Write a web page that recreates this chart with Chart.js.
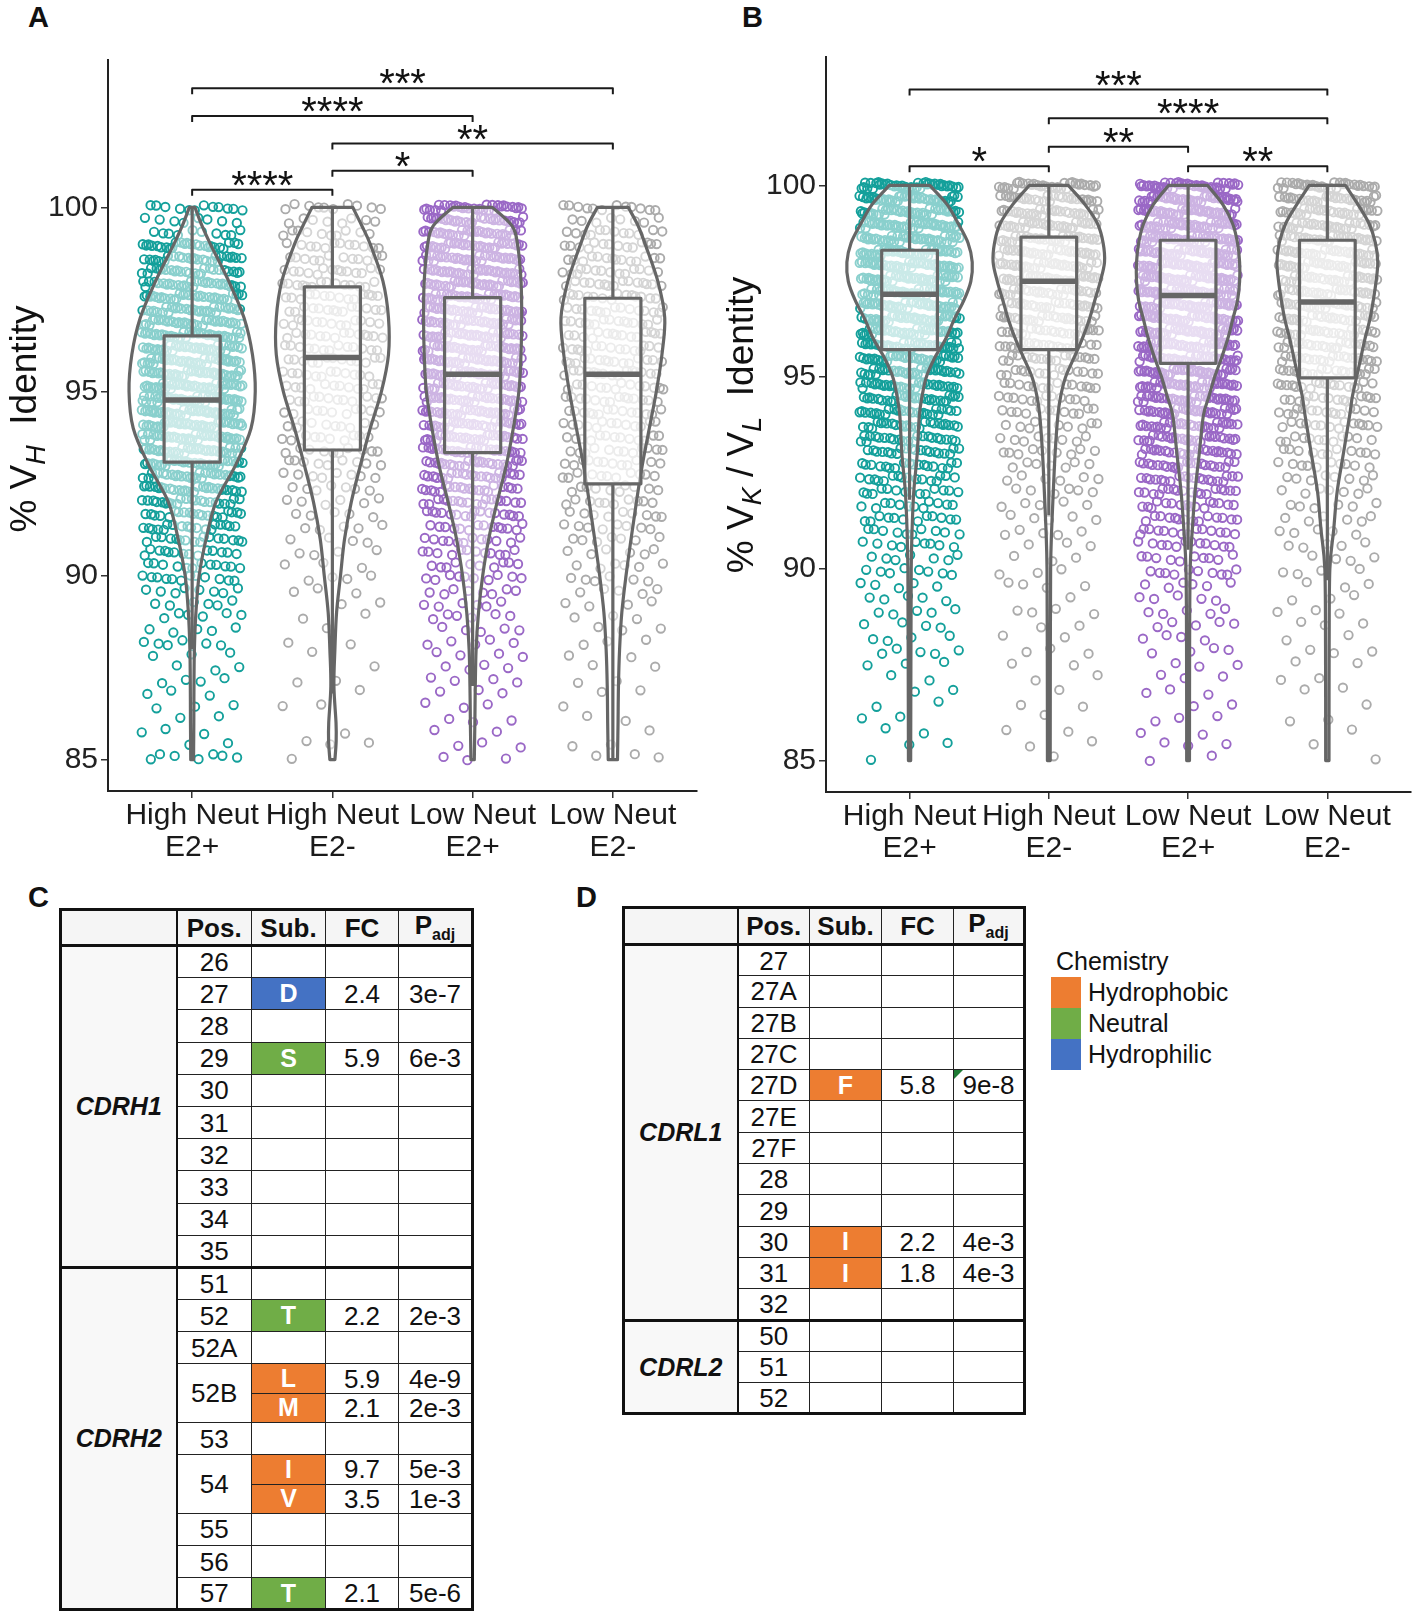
<!DOCTYPE html>
<html>
<head>
<meta charset="utf-8">
<title>V gene identity and CDR substitutions</title>
<script src="https://cdn.jsdelivr.net/npm/chart.js@4.4.1/dist/chart.umd.min.js"></script>
<style>
  body { margin: 0; width: 1417px; height: 1614px; position: relative; background: #fff; overflow: hidden;
         font-family: "Liberation Sans", Arial, sans-serif; color: #111; }
  .lab { position: absolute; font-weight: bold; font-size: 29px; line-height: 1; }
  canvas { position: absolute; top: 0; }
  #chartA { left: 0; width: 710px; height: 870px; }
  #chartB { left: 715px; width: 702px; height: 870px; }
  table.cdr { position: absolute; border-collapse: collapse; table-layout: fixed; font-size: 26px;
              border: 3.5px solid #111; }
  table.cdr td, table.cdr th { border: 1.5px solid #222; padding: 0; text-align: center; line-height: 1; overflow: hidden; }
  table.cdr th { background: #f5f5f5; font-weight: bold; border-bottom: 3.5px solid #111; }
  table.cdr th sub { font-size: 16px; }
  table.cdr td.region { background: #f8f8f8; font-weight: bold; font-style: italic; font-size: 25px; border-right: 2.5px solid #111; }
  table.cdr th:first-child { border-right: 2.5px solid #111; }
  table.cdr tr.sep td { border-top: 3.5px solid #111; }
  table.cdr td.aa { color: #fff; font-weight: bold; font-size: 25px; }
  table.cdr td.flag { position: relative; }
  table.cdr td.flag::before { content: ""; position: absolute; left: 0; top: 0; border-top: 9px solid #1e7b34; border-right: 9px solid transparent; }
  #legend { position: absolute; left: 1051px; top: 946px; font-size: 25px; }
  #legend .ttl { margin-left: 5px; height: 31px; line-height: 31px; }
  #legend .row { height: 31px; display: flex; align-items: center; }
  #legend .sw { width: 30px; height: 31px; margin-right: 7px; }
</style>
</head>
<body>
<div class="lab" style="left:28px;top:3px">A</div>
<div class="lab" style="left:742px;top:3px">B</div>
<div class="lab" style="left:28px;top:883px">C</div>
<div class="lab" style="left:576px;top:883px">D</div>
<canvas id="chartA" width="710" height="870"></canvas>
<canvas id="chartB" width="702" height="870"></canvas>
<div id="tableC"></div>
<div id="tableD"></div>
<div id="legend"></div>
<script>
const FAMILY = '"Liberation Sans", Arial, sans-serif';

// groups on both plots
const groupLabels = [['High Neut', 'E2+'], ['High Neut', 'E2-'], ['Low Neut', 'E2+'], ['Low Neut', 'E2-']];
const groupColors = ['#14a09b', '#ababab', '#9a68c6', '#ababab'];
const yTicks = [85, 90, 95, 100];

// identity levels (%) the sequences sit on, top to bottom
const levels = [100, 99.65, 99.31, 98.96, 98.61, 98.26, 97.92, 97.57, 97.22, 96.88, 96.53, 96.18, 95.83,
  95.49, 95.14, 94.79, 94.44, 94.10, 93.75, 93.40, 93.06, 92.71, 92.36, 92.01, 91.67, 91.32, 90.97, 90.63,
  90.28, 89.93, 89.58, 89.24, 88.89, 88.54, 88.19, 87.85, 87.50, 87.15, 86.81, 86.46, 86.11, 85.76, 85.42, 85.07];

// panel A: number of sequences at each level (% VH identity)
const vhHiPos = [12, 8, 10, 25, 25, 25, 28, 30, 30, 32, 35, 35, 38, 38, 40, 40, 40, 38, 36, 34, 32, 28, 26, 22,
  20, 18, 16, 14, 12, 12, 8, 6, 6, 5, 6, 3, 3, 4, 3, 3, 2, 3, 2, 7];
const vhHiNeg = [10, 8, 10, 12, 12, 14, 14, 14, 14, 14, 14, 13, 13, 12, 12, 12, 11, 10, 10, 10, 9, 8, 7, 6,
  5, 5, 4, 4, 3, 4, 3, 2, 2, 1, 2, 1, 1, 2, 1, 2, 0, 1, 3, 1];
const vhLoPos = [30, 28, 30, 32, 32, 32, 32, 32, 32, 32, 32, 32, 32, 32, 30, 30, 30, 28, 28, 26, 24, 22, 20, 18,
  16, 14, 12, 12, 10, 10, 8, 6, 6, 5, 5, 4, 4, 4, 3, 3, 3, 2, 3, 3];
const vhLoNeg = [12, 8, 12, 14, 14, 14, 15, 15, 15, 15, 15, 15, 15, 15, 14, 14, 14, 13, 13, 12, 12, 11, 10, 10,
  9, 8, 7, 6, 6, 6, 5, 4, 3, 3, 3, 2, 2, 2, 2, 1, 2, 1, 2, 3];

// panel B: number of sequences at each level (% VK / VL identity)
const vlHiPos = [40, 40, 40, 40, 40, 40, 40, 40, 40, 38, 38, 36, 36, 34, 32, 30, 28, 26, 24, 22, 20, 18, 16, 14,
  12, 12, 10, 9, 7, 8, 5, 5, 5, 4, 4, 5, 3, 2, 2, 2, 2, 2, 2, 1];
const vlHiNeg = [30, 26, 28, 28, 28, 28, 28, 28, 26, 24, 24, 22, 20, 18, 16, 14, 12, 12, 10, 9, 9, 7, 6, 6,
  5, 5, 5, 3, 3, 3, 4, 1, 4, 2, 2, 3, 2, 2, 1, 2, 1, 2, 2, 1];
const vlLoPos = [40, 40, 40, 40, 40, 40, 40, 40, 40, 38, 38, 38, 36, 36, 36, 34, 32, 30, 28, 26, 24, 22, 20, 18,
  16, 14, 14, 12, 10, 10, 6, 5, 5, 5, 4, 4, 3, 3, 3, 2, 3, 2, 3, 2];
const vlLoNeg = [30, 28, 28, 28, 28, 28, 28, 27, 26, 25, 24, 24, 22, 21, 20, 18, 16, 15, 14, 12, 11, 10, 8, 7,
  6, 6, 5, 5, 4, 4, 3, 3, 3, 3, 2, 3, 2, 2, 2, 1, 2, 1, 1, 1];

// violin half-widths (x units) along each panel's grid
const violinGridA = [100, 99.5, 99, 98, 97, 96, 95, 94, 93, 92, 91, 90, 89, 88, 87, 86, 85.5, 85];
const vhViolinHiPos = [0.02, 0.07, 0.13, 0.26, 0.37, 0.43, 0.45, 0.42, 0.31, 0.17, 0.10, 0.05, 0.027, 0.016, 0.013, 0.012, 0.011, 0.01];
const vhViolinHiNeg = [0.145, 0.21, 0.27, 0.36, 0.40, 0.40, 0.35, 0.27, 0.20, 0.135, 0.087, 0.058, 0.03, 0.018, 0.011, 0.026, 0.027, 0.018];
const vhViolinLoPos = [0.14, 0.28, 0.32, 0.345, 0.35, 0.345, 0.33, 0.29, 0.24, 0.175, 0.115, 0.072, 0.042, 0.025, 0.019, 0.016, 0.014, 0.012];
const vhViolinLoNeg = [0.11, 0.18, 0.23, 0.32, 0.37, 0.35, 0.31, 0.26, 0.21, 0.168, 0.13, 0.094, 0.064, 0.048, 0.04, 0.037, 0.035, 0.033];

const violinGridB = [100, 99.5, 99, 98.5, 98, 97.5, 97, 96.5, 96, 95.5, 95, 94.5, 94, 93, 92, 91, 90, 88, 85];
const vlViolinHiPos = [0.145, 0.27, 0.35, 0.42, 0.45, 0.44, 0.39, 0.32, 0.26, 0.18, 0.12, 0.09, 0.07, 0.055, 0.03, 0.018, 0.012, 0.01, 0.008];
const vlViolinHiNeg = [0.14, 0.26, 0.35, 0.39, 0.40, 0.37, 0.33, 0.29, 0.24, 0.18, 0.12, 0.085, 0.065, 0.045, 0.032, 0.02, 0.013, 0.011, 0.01];
const vlViolinLoPos = [0.14, 0.25, 0.32, 0.355, 0.37, 0.37, 0.355, 0.32, 0.285, 0.24, 0.19, 0.15, 0.11, 0.08, 0.05, 0.03, 0.015, 0.011, 0.01];
const vlViolinLoNeg = [0.13, 0.22, 0.30, 0.345, 0.362, 0.35, 0.33, 0.305, 0.27, 0.24, 0.21, 0.18, 0.16, 0.115, 0.07, 0.045, 0.018, 0.013, 0.012];

// box plot statistics per group
const vhQ1 = [93.08, 93.41, 93.34, 92.49];
const vhMedian = [94.77, 95.92, 95.47, 95.47];
const vhQ3 = [96.51, 97.84, 97.55, 97.53];
const vhWhiskerLo = [88.0, 86.8, 87.0, 85.0];
const vhWhiskerHi = [100, 100, 100, 100];

const vlQ1 = [95.72, 95.72, 95.36, 94.98];
const vlMedian = [97.16, 97.50, 97.13, 96.96];
const vlQ3 = [98.31, 98.65, 98.57, 98.57];
const vlWhiskerLo = [91.8, 91.4, 90.5, 89.7];
const vlWhiskerHi = [100, 100, 100, 100];

// significance brackets
const vhBrFrom = [1, 1, 2, 2, 1];
const vhBrTo = [4, 3, 4, 3, 2];
const vhBrY = [103.23, 102.48, 101.73, 100.99, 100.48];
const vhBrLabel = ['***', '****', '**', '*', '****'];

const vlBrFrom = [1, 2, 2, 1, 3];
const vlBrTo = [4, 4, 3, 2, 4];
const vlBrY = [102.50, 101.75, 101.01, 100.50, 100.50];
const vlBrLabel = ['***', '****', '**', '*', '**'];

// tables
const chemNames = ['Hydrophobic', 'Neutral', 'Hydrophilic'];
const chemColors = ['#ed7d31', '#70ad47', '#4472c4'];
const chemResidues = ['FILMV', 'ST', 'D'];

const hRegions = ['CDRH1', 'CDRH2'];
const hRegionRows = [10, 11];
const hPos = ['26', '27', '28', '29', '30', '31', '32', '33', '34', '35', '51', '52', '52A', '52B', '52B', '53', '54', '54', '55', '56', '57'];
const hSub = ['', 'D', '', 'S', '', '', '', '', '', '', '', 'T', '', 'L', 'M', '', 'I', 'V', '', '', 'T'];
const hFC = ['', '2.4', '', '5.9', '', '', '', '', '', '', '', '2.2', '', '5.9', '2.1', '', '9.7', '3.5', '', '', '2.1'];
const hPadj = ['', '3e-7', '', '6e-3', '', '', '', '', '', '', '', '2e-3', '', '4e-9', '2e-3', '', '5e-3', '1e-3', '', '', '5e-6'];

const lRegions = ['CDRL1', 'CDRL2'];
const lRegionRows = [12, 3];
const lPos = ['27', '27A', '27B', '27C', '27D', '27E', '27F', '28', '29', '30', '31', '32', '50', '51', '52'];
const lSub = ['', '', '', '', 'F', '', '', '', '', 'I', 'I', '', '', '', ''];
const lFC = ['', '', '', '', '5.8', '', '', '', '', '2.2', '1.8', '', '', '', ''];
const lPadj = ['', '', '', '', '9e-8', '', '', '', '', '4e-3', '4e-3', '', '', '', ''];
const lFlagged = ['27D'];

const JITTER_W = 0.36;
const JITTER_H = 0.09;
let seq = 0;

function jitterPoints(g, counts) {
  const pts = [];
  counts.forEach((n, i) => {
    for (let k = 0; k < n; k++) {
      seq++;
      const u = (seq * 0.6180339887 + 0.29) % 1;
      const v = (seq * 0.7548776662 + 0.51) % 1;
      pts.push({ x: g + 1 + (u - 0.5) * 2 * JITTER_W, y: levels[i] + (v - 0.5) * 2 * JITTER_H });
    }
  });
  return pts;
}

function splineSide(ctx, pts) {
  for (let i = 0; i < pts.length - 1; i++) {
    const p0 = pts[Math.max(i - 1, 0)], p1 = pts[i], p2 = pts[i + 1], p3 = pts[Math.min(i + 2, pts.length - 1)];
    ctx.bezierCurveTo(p1[0] + (p2[0] - p0[0]) / 6, p1[1] + (p2[1] - p0[1]) / 6,
                      p2[0] - (p3[0] - p1[0]) / 6, p2[1] - (p3[1] - p1[1]) / 6, p2[0], p2[1]);
  }
}

const violinPlugin = {
  id: 'violins',
  afterDatasetsDraw(chart, args, o) {
    const { ctx } = chart;
    const x = chart.scales.x, y = chart.scales.y;
    const ux = x.getPixelForValue(1) - x.getPixelForValue(0);
    ctx.save();
    ctx.strokeStyle = '#666';
    ctx.lineJoin = 'round';
    // violins
    o.widths.forEach((w, g) => {
      const cx = x.getPixelForValue(g + 1);
      const right = o.grid.map((v, i) => [cx + w[i] * ux, y.getPixelForValue(v)]);
      const left = o.grid.map((v, i) => [cx - w[i] * ux, y.getPixelForValue(v)]).reverse();
      ctx.beginPath();
      ctx.moveTo(left[left.length - 1][0], left[left.length - 1][1]);
      ctx.lineTo(right[0][0], right[0][1]);
      splineSide(ctx, right);
      ctx.lineTo(left[0][0], left[0][1]);
      splineSide(ctx, left);
      ctx.closePath();
      ctx.fillStyle = 'rgba(255,255,255,0.5)';
      ctx.fill();
      ctx.lineWidth = 3.2;
      ctx.stroke();
    });
    // boxes
    const bw = 0.2 * ux;
    o.q1.forEach((q1, g) => {
      const cx = x.getPixelForValue(g + 1);
      const yq1 = y.getPixelForValue(q1), yq3 = y.getPixelForValue(o.q3[g]);
      ctx.lineWidth = 3.2;
      ctx.beginPath();
      ctx.moveTo(cx, y.getPixelForValue(o.hi[g])); ctx.lineTo(cx, yq3);
      ctx.moveTo(cx, yq1); ctx.lineTo(cx, y.getPixelForValue(o.lo[g]));
      ctx.stroke();
      ctx.fillStyle = 'rgba(255,255,255,0.55)';
      ctx.fillRect(cx - bw, yq3, 2 * bw, yq1 - yq3);
      ctx.strokeRect(cx - bw, yq3, 2 * bw, yq1 - yq3);
      const ym = y.getPixelForValue(o.median[g]);
      ctx.lineWidth = 5.5;
      ctx.beginPath(); ctx.moveTo(cx - bw, ym); ctx.lineTo(cx + bw, ym); ctx.stroke();
    });
    // brackets
    ctx.strokeStyle = '#1a1a1a';
    ctx.fillStyle = '#111';
    ctx.lineWidth = 2;
    ctx.font = '40px ' + FAMILY;
    ctx.textAlign = 'center';
    ctx.textBaseline = 'alphabetic';
    o.brFrom.forEach((a, i) => {
      const xa = x.getPixelForValue(a), xb = x.getPixelForValue(o.brTo[i]), yb = y.getPixelForValue(o.brY[i]);
      ctx.beginPath();
      ctx.moveTo(xa, yb + 6); ctx.lineTo(xa, yb); ctx.lineTo(xb, yb); ctx.lineTo(xb, yb + 6);
      ctx.stroke();
      ctx.fillText(o.brLabel[i], (xa + xb) / 2, yb + 9);
    });
    ctx.restore();
  },
  afterDraw(chart, args, o) {
    // y axis title with subscripts
    const { ctx } = chart;
    ctx.save();
    ctx.translate(o.titleX, o.titleY);
    ctx.rotate(-Math.PI / 2);
    const fonts = o.title.map(s => s.sub ? 'italic 27px ' + FAMILY : '37px ' + FAMILY);
    const widths = o.title.map((s, i) => { ctx.font = fonts[i]; return ctx.measureText(s.t).width; });
    let x0 = -widths.reduce((a, b) => a + b, 0) / 2;
    ctx.fillStyle = '#111';
    ctx.textBaseline = 'alphabetic';
    o.title.forEach((s, i) => {
      ctx.font = fonts[i];
      ctx.fillText(s.t, x0, s.sub ? 22 : 13.5);
      x0 += widths[i];
    });
    ctx.restore();
  }
};

function makeChart(id, p) {
  const datasets = p.counts.map((c, g) => ({
    data: jitterPoints(g, c),
    showLine: false,
    pointRadius: 4.2,
    pointBorderWidth: 1.9,
    pointBackgroundColor: 'rgba(0,0,0,0)',
    pointBorderColor: groupColors[g]
  }));
  const tickFont = { family: FAMILY, size: 30, lineHeight: 1.05 };
  return new Chart(document.getElementById(id), {
    type: 'scatter',
    data: { datasets },
    options: {
      responsive: false,
      animation: false,
      events: [],
      layout: { padding: { top: p.top, right: p.right, left: 0, bottom: 0 } },
      plugins: {
        legend: { display: false },
        tooltip: { enabled: false },
        violins: {
          grid: p.grid, widths: p.widths,
          q1: p.q1, median: p.median, q3: p.q3, lo: p.lo, hi: p.hi,
          brFrom: p.brFrom, brTo: p.brTo, brY: p.brY, brLabel: p.brLabel,
          title: p.title, titleX: p.titleX, titleY: p.titleY
        }
      },
      scales: {
        x: {
          type: 'linear', min: 0.4, max: 4.6,
          afterBuildTicks: s => { s.ticks = [1, 2, 3, 4].map(v => ({ value: v })); },
          afterFit: s => { s.height = p.xHeight; },
          ticks: { callback: v => groupLabels[v - 1], font: tickFont, color: '#1a1a1a', padding: 2, maxRotation: 0, autoSkip: false },
          grid: { drawOnChartArea: false, drawTicks: true, tickLength: 7, color: '#333', lineWidth: 1.5 },
          border: { display: true, color: '#222', width: 2 }
        },
        y: {
          min: p.yMin, max: p.yMax,
          afterBuildTicks: s => { s.ticks = yTicks.map(v => ({ value: v })); },
          afterFit: s => { s.width = p.yWidth; },
          ticks: { font: tickFont, color: '#222', padding: 3 },
          grid: { drawOnChartArea: false, drawTicks: true, tickLength: 7, color: '#333', lineWidth: 1.5 },
          border: { display: true, color: '#222', width: 2 }
        }
      }
    },
    plugins: [violinPlugin]
  });
}

makeChart('chartA', {
  counts: [vhHiPos, vhHiNeg, vhLoPos, vhLoNeg],
  grid: violinGridA, widths: [vhViolinHiPos, vhViolinHiNeg, vhViolinLoPos, vhViolinLoNeg],
  q1: vhQ1, median: vhMedian, q3: vhQ3, lo: vhWhiskerLo, hi: vhWhiskerHi,
  brFrom: vhBrFrom, brTo: vhBrTo, brY: vhBrY, brLabel: vhBrLabel,
  title: [{ t: '% V' }, { t: 'H', sub: true }, { t: '  Identity' }], titleX: 22.5, titleY: 419,
  yMin: 84.15, yMax: 104.0, top: 60, right: 13, yWidth: 108, xHeight: 79
});

makeChart('chartB', {
  counts: [vlHiPos, vlHiNeg, vlLoPos, vlLoNeg],
  grid: violinGridB, widths: [vlViolinHiPos, vlViolinHiNeg, vlViolinLoPos, vlViolinLoNeg],
  q1: vlQ1, median: vlMedian, q3: vlQ3, lo: vlWhiskerLo, hi: vlWhiskerHi,
  brFrom: vlBrFrom, brTo: vlBrTo, brY: vlBrY, brLabel: vlBrLabel,
  title: [{ t: '% V' }, { t: 'K', sub: true }, { t: ' / V' }, { t: 'L', sub: true }, { t: '  Identity' }], titleX: 24, titleY: 425,
  yMin: 84.18, yMax: 103.35, top: 57, right: 2, yWidth: 111, xHeight: 78
});

function chemColorOf(aa) {
  const i = chemResidues.findIndex(s => s.includes(aa));
  return chemColors[i];
}

function buildTable(hostId, regions, regionRows, pos, sub, fc, padj, flagged, lay) {
  let html = `<table class="cdr" style="left:${lay.left}px;top:${lay.top}px;width:${lay.cols.reduce((a, b) => a + b, 0)}px">`;
  html += '<colgroup>' + lay.cols.map(w => `<col style="width:${w}px">`).join('') + '</colgroup>';
  html += `<tr style="height:${lay.headH}px"><th></th><th>Pos.</th><th>Sub.</th><th>FC</th><th>P<sub>adj</sub></th></tr>`;
  let r = 0;
  regions.forEach((name, ri) => {
    for (let j = 0; j < regionRows[ri]; j++, r++) {
      const split = pos[r] === pos[r - 1] || pos[r] === pos[r + 1];
      let tr = `<tr class="${j === 0 && ri > 0 ? 'sep' : ''}" style="height:${split ? lay.splitH : lay.rowH}px">`;
      if (j === 0) tr += `<td class="region" rowspan="${regionRows[ri]}">${name}</td>`;
      if (pos[r] !== pos[r - 1]) tr += `<td rowspan="${pos[r] === pos[r + 1] ? 2 : 1}">${pos[r]}</td>`;
      tr += sub[r] ? `<td class="aa" style="background:${chemColorOf(sub[r])}">${sub[r]}</td>` : '<td></td>';
      tr += `<td>${fc[r]}</td><td class="${flagged.includes(pos[r]) ? 'flag' : ''}">${padj[r]}</td></tr>`;
      html += tr;
    }
  });
  document.getElementById(hostId).innerHTML = html + '</table>';
}

buildTable('tableC', hRegions, hRegionRows, hPos, hSub, hFC, hPadj, [],
  { left: 59, top: 908, cols: [116, 75, 74, 73, 74], headH: 36, rowH: 32.2, splitH: 29.3 });
buildTable('tableD', lRegions, lRegionRows, lPos, lSub, lFC, lPadj, lFlagged,
  { left: 622, top: 906, cols: [114, 72, 72, 72, 71], headH: 37, rowH: 31.3, splitH: 31.3 });

document.getElementById('legend').innerHTML = '<div class="ttl">Chemistry</div>' +
  chemNames.map((n, i) => `<div class="row"><div class="sw" style="background:${chemColors[i]}"></div>${n}</div>`).join('');
</script>
</body>
</html>
